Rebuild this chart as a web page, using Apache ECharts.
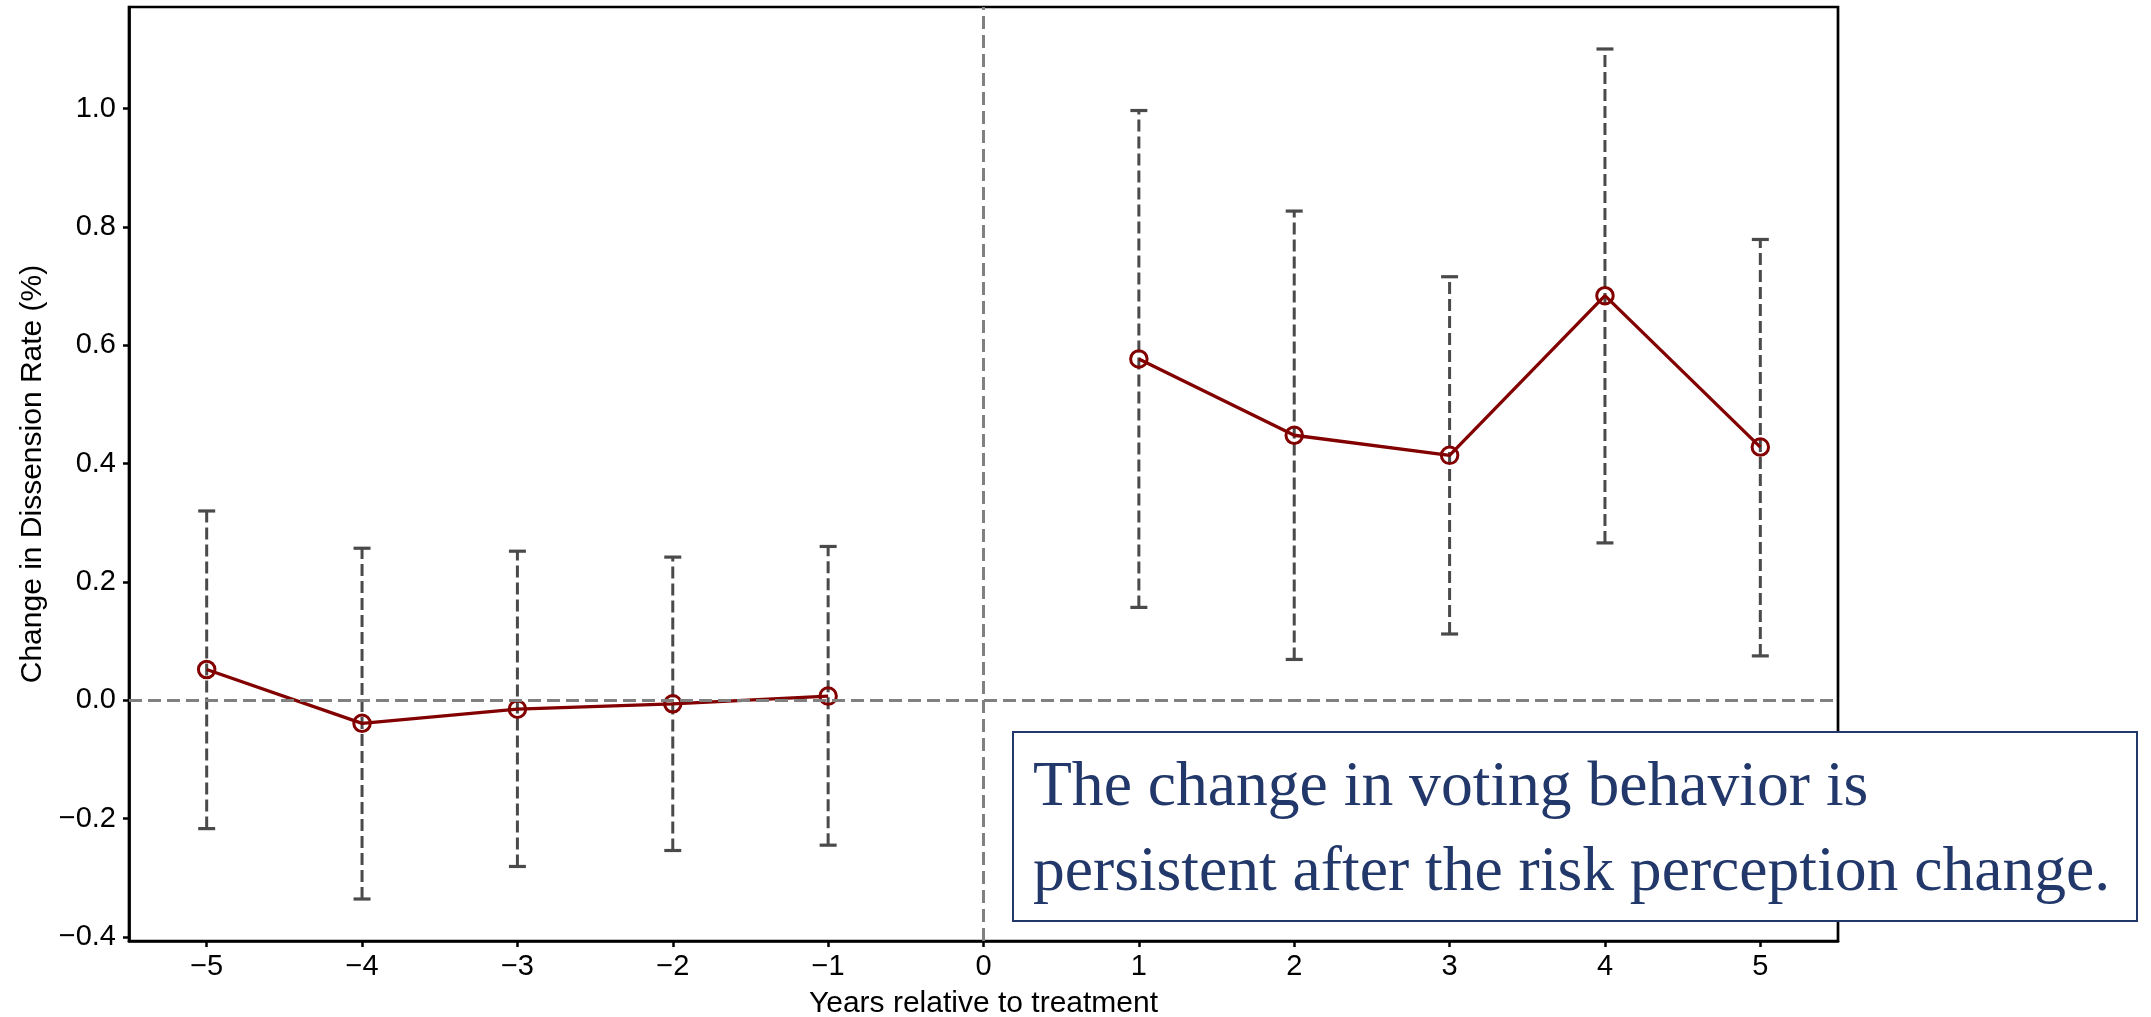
<!DOCTYPE html>
<html>
<head>
<meta charset="utf-8">
<title>Event study: dissension rate</title>
<script src="https://cdn.jsdelivr.net/npm/echarts@6/dist/echarts.min.js"></script>
<style>
  html, body { margin: 0; padding: 0; background: #ffffff; }
  #chart { width: 2151px; height: 1017px; }
</style>
</head>
<body>
<div id="chart"></div>
<script>
// Event-time coefficients with 95% confidence intervals
const preYears = [-5, -4, -3, -2, -1];
const preEstimate = [0.052, -0.039, -0.015, -0.006, 0.007];
const preLower = [-0.217, -0.336, -0.281, -0.254, -0.245];
const preUpper = [0.320, 0.257, 0.252, 0.242, 0.260];

const postYears = [1, 2, 3, 4, 5];
const postEstimate = [0.577, 0.448, 0.414, 0.684, 0.428];
const postLower = [0.157, 0.069, 0.112, 0.266, 0.075];
const postUpper = [0.997, 0.827, 0.716, 1.101, 0.779];

// Axis ticks and ranges
const xTicks = [-5, -4, -3, -2, -1, 0, 1, 2, 3, 4, 5];
const yTicks = [-0.4, -0.2, 0.0, 0.2, 0.4, 0.6, 0.8, 1.0];
const xRange = [-5.5, 5.5];
const yRange = [-0.407, 1.172];

const xTitle = 'Years relative to treatment';
const yTitle = 'Change in Dissension Rate (%)';
const noteLines = ['The change in voting behavior is', 'persistent after the risk perception change.'];

const SANS = '"Liberation Sans", Arial, Helvetica, sans-serif';
const SERIF = '"Liberation Serif", "Times New Roman", serif';
const LINE_RED = '#820000';
const BAR_GREY = '#4a4a4a';
const REF_GREY = '#808080';
const NAVY = '#22386a';

const fmtMinus = v => (v < 0 ? '\u2212' : '') + Math.abs(v);

const pts = (xs, ys) => xs.map((x, i) => [x, ys[i]]);
const ciRows = (xs, lo, hi) => xs.map((x, i) => [x, lo[i], hi[i]]);

const chart = echarts.init(document.getElementById('chart'), null, { renderer: 'canvas' });

const CAP_HALF = 8.5;

function renderErrorBar(params, api) {
  const x = api.value(0);
  const lo = api.coord([x, api.value(1)]);
  const hi = api.coord([x, api.value(2)]);
  const capStyle = { stroke: BAR_GREY, lineWidth: 3.2 };
  return {
    type: 'group',
    children: [
      { type: 'line', shape: { x1: lo[0], y1: lo[1], x2: hi[0], y2: hi[1] },
        style: { stroke: BAR_GREY, lineWidth: 3, lineDash: [12, 5] } },
      { type: 'line', shape: { x1: lo[0] - CAP_HALF, y1: lo[1], x2: lo[0] + CAP_HALF, y2: lo[1] }, style: capStyle },
      { type: 'line', shape: { x1: hi[0] - CAP_HALF, y1: hi[1], x2: hi[0] + CAP_HALF, y2: hi[1] }, style: capStyle }
    ]
  };
}

const pointLine = (name, data) => ({
  name, type: 'line', data, z: 4,
  symbol: 'circle', symbolSize: 16.5, showAllSymbol: true,
  itemStyle: { color: 'rgba(0,0,0,0)', borderColor: LINE_RED, borderWidth: 3 },
  lineStyle: { color: LINE_RED, width: 3.3 },
  emphasis: { disabled: true },
  animation: false
});

const option = {
  backgroundColor: '#ffffff',
  animation: false,
  grid: {
    left: 129, top: 7, width: 1709, height: 934,
    show: true, borderColor: '#000', borderWidth: 2.7, backgroundColor: 'transparent',
    containLabel: false, outerBoundsMode: 'none'
  },
  xAxis: {
    type: 'value', min: xRange[0], max: xRange[1],
    splitLine: { show: false },
    axisLine: { show: true, onZero: false, lineStyle: { color: '#000', width: 2.7 } },
    axisTick: { show: true, inside: false, length: 6, lineStyle: { color: '#000', width: 2.5 }, customValues: xTicks },
    axisLabel: { show: true, margin: 11, color: '#000', fontFamily: SANS, fontSize: 29,
      customValues: xTicks, formatter: v => fmtMinus(v) },
    name: xTitle, nameLocation: 'middle', nameGap: 48,
    nameTextStyle: { color: '#000', fontFamily: SANS, fontSize: 30 }
  },
  yAxis: {
    type: 'value', min: yRange[0], max: yRange[1],
    splitLine: { show: false },
    axisLine: { show: true, onZero: false, lineStyle: { color: '#000', width: 2.7 } },
    axisTick: { show: true, inside: false, length: 6, lineStyle: { color: '#000', width: 2.5 }, customValues: yTicks },
    axisLabel: { show: true, margin: 13, color: '#000', fontFamily: SANS, fontSize: 29,
      customValues: yTicks, formatter: v => (v < 0 ? '\u2212' : '') + Math.abs(v).toFixed(1) },
    name: yTitle, nameLocation: 'middle', nameGap: 80, nameRotate: 90,
    nameTextStyle: { color: '#000', fontFamily: SANS, fontSize: 30 }
  },
  series: [
    {
      name: 'CI before', type: 'custom', z: 2,
      data: ciRows(preYears, preLower, preUpper),
      encode: { x: 0, y: [1, 2] },
      renderItem: renderErrorBar, silent: true
    },
    {
      name: 'CI after', type: 'custom', z: 2,
      data: ciRows(postYears, postLower, postUpper),
      encode: { x: 0, y: [1, 2] },
      renderItem: renderErrorBar, silent: true
    },
    pointLine('Before treatment', pts(preYears, preEstimate)),
    pointLine('After treatment', pts(postYears, postEstimate)),
    {
      name: 'Reference lines', type: 'line', data: [], z: 5,
      markLine: {
        silent: true, symbol: ['none', 'none'], label: { show: false },
        lineStyle: { color: REF_GREY, width: 3, type: [13, 6] },
        emphasis: { disabled: true },
        data: [{ yAxis: 0 }, { xAxis: 0 }]
      }
    }
  ],
  graphic: [
    {
      type: 'group', left: 1012, top: 731, z: 100,
      children: [
        { type: 'rect', shape: { x: 0, y: 0, width: 1124, height: 189 },
          style: { fill: '#ffffff', stroke: NAVY, lineWidth: 2 }, z: 100 },
        { type: 'text', x: 20, y: 56, z: 101,
          style: { text: noteLines[0], font: '63.6px ' + SERIF, fill: NAVY, verticalAlign: 'middle', align: 'left' } },
        { type: 'text', x: 20, y: 141, z: 101,
          style: { text: noteLines[1], font: '63.6px ' + SERIF, fill: NAVY, verticalAlign: 'middle', align: 'left' } }
      ]
    }
  ]
};

chart.setOption(option);
</script>
</body>
</html>
